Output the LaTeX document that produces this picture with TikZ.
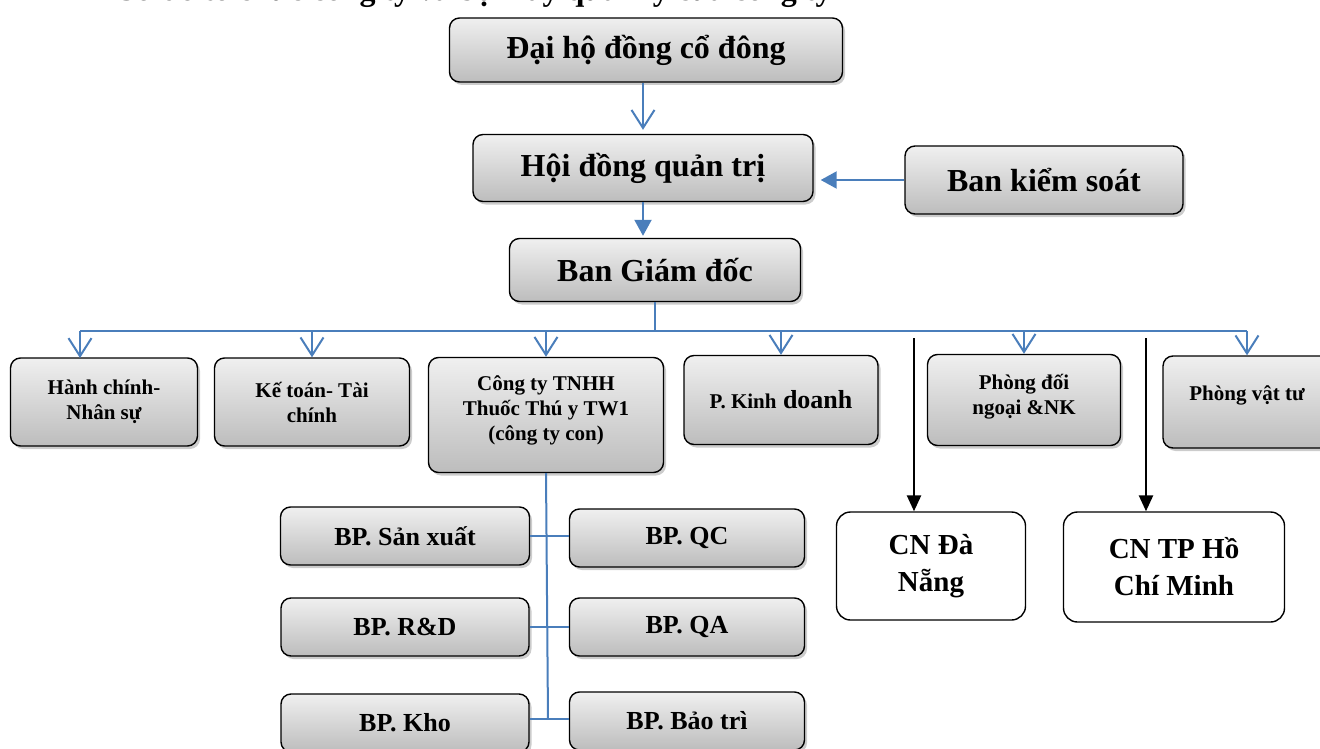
\documentclass[tikz,border=0pt]{standalone}
\usepackage{fontspec}
\setmainfont{Liberation Serif}
\usetikzlibrary{arrows.meta,shadows}
\definecolor{linkblue}{HTML}{4A7EBB}

\begin{document}
\begin{tikzpicture}[x=1pt,y=-1pt,
	box/.style={draw=black,line width=1.4pt,rounded corners=10pt,top color=gray!12,bottom color=gray!52,
		drop shadow={shadow xshift=2.5pt,shadow yshift=-3pt,fill=black!40},align=center,inner sep=2pt},
	big/.style={box,font=\bfseries\fontsize{32}{38}\selectfont},
	unit/.style={box,font=\bfseries\fontsize{21}{25}\selectfont},
	bp/.style={box,font=\bfseries\fontsize{26}{30}\selectfont,minimum height=58pt},
	branch/.style={draw=black,line width=1.4pt,rounded corners=14pt,fill=white,align=center,
		font=\bfseries\fontsize{29}{37}\selectfont},
	link/.style={draw=linkblue,line width=2pt},
	vee/.style={link,-{Straight Barb[length=18pt,width=23pt]}},
	tri/.style={link,-{Triangle[length=16pt,width=17pt]}},
	down/.style={line width=2.5pt,-{Triangle[length=16pt,width=14pt]}}]
\useasboundingbox (0,0) rectangle (1320,749);
\node[font=\bfseries\fontsize{32}{38}\selectfont,anchor=base west,inner sep=0pt] (title) at (118,0.5) {Sơ đồ tổ chức công ty và bộ máy quản lý của công ty};
\node[big,minimum width=393pt,minimum height=64pt] (dh) at (646,50) {Đại hộ đồng cổ đông};
\node[big,minimum width=340pt,minimum height=67pt] (hdqt) at (643,168) {Hội đồng quản trị};
\node[big,minimum width=278pt,minimum height=68pt] (bks) at (1044,180) {Ban kiểm soát};
\node[big,minimum width=291pt,minimum height=63pt] (bgd) at (655,270) {Ban Giám đốc};
\node[unit,minimum width=187pt,minimum height=88pt] (hc) at (104,402) {Hành chính-\\Nhân sự};
\node[unit,minimum width=195pt,minimum height=88pt] (kt) at (312,402) {Kế toán- Tài\\chính};
\node[unit,minimum width=235pt,minimum height=115pt] (cty) at (546,415) {Công ty TNHH\\Thuốc Thú y TW1\\(công ty con)\\[-11pt]};
\node[unit,minimum width=194pt,minimum height=89pt,font=\bfseries\fontsize{26}{30}\selectfont] (kd) at (781,400) {{\fontsize{21}{25}\selectfont P. Kinh} doanh};
\node[unit,minimum width=193pt,minimum height=91pt] (dnk) at (1024,400) {Phòng đối\\ngoại \&NK\\[-13pt]};
\node[unit,minimum width=168pt,minimum height=92pt] (vt) at (1247,402) {Phòng vật tư\\[-7pt]};
\node[branch,minimum width=189pt,minimum height=108pt] (dn) at (931,566) {CN Đà\\Nẵng};
\node[branch,minimum width=221pt,minimum height=110pt] (hcm) at (1174,567) {CN TP Hồ\\Chí Minh};
\node[bp,minimum width=249pt] (sx) at (405,536) {BP. Sản xuất};
\node[bp,minimum width=248pt] (rd) at (405,627) {BP. R\&D};
\node[bp,minimum width=248pt] (kho) at (405,723) {BP. Kho};
\node[bp,minimum width=235pt] (qc) at (687,538) {BP. QC};
\node[bp,minimum width=235pt] (qa) at (687,627) {BP. QA};
\node[bp,minimum width=235pt] (bt) at (687,721) {BP. Bảo trì};
\coordinate (bus) at (655,331);
\coordinate (hcin) at (80,358);
\coordinate (dnin) at (914,338);
\coordinate (hcmin) at (1146,338);
\coordinate (trunk) at (548,719);
\draw[vee,shorten >=4pt] (dh.south -| hdqt.north) -- (hdqt.north);
\draw[tri,shorten >=7pt] (bks.west) -- (bks.west -| hdqt.east);
\draw[tri,shorten >=2pt] (hdqt.south) -- (hdqt.south |- bgd.north);
\draw[link] (bgd.south) -- (bus);
\draw[link] (hcin |- bus) -- (vt.north |- bus);
\draw[vee] (hcin |- bus) -- (hcin);
\draw[vee] (kt.north |- bus) -- (kt.north);
\draw[vee] (cty.north |- bus) -- (cty.north);
\draw[vee] (kd.north |- bus) -- (kd.north);
\draw[vee] (dnk.north |- bus) -- (dnk.north);
\draw[vee] (vt.north |- bus) -- (vt.north);
\draw[down] (dnin) -- (dnin |- dn.north);
\draw[down] (hcmin) -- (hcmin |- hcm.north);
\draw[link] (cty.south) -- (trunk);
\draw[link] (sx.east) -- (sx.east -| qc.west);
\draw[link] (rd.east) -- (rd.east -| qa.west);
\draw[link] (kho.east |- trunk) -- (bt.west |- trunk);
\end{tikzpicture}
\end{document}
